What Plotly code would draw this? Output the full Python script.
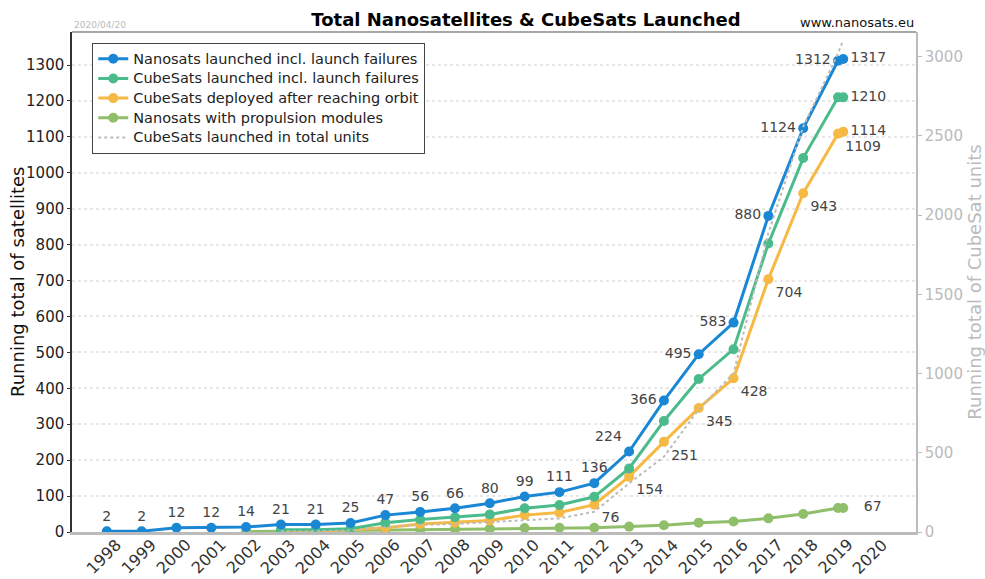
import plotly.graph_objects as go

years = [1998, 1999, 2000, 2001, 2002, 2003, 2004, 2005, 2006, 2007, 2008, 2009,
         2010, 2011, 2012, 2013, 2014, 2015, 2016, 2017, 2018, 2019, 2019.15]
nanosats = [2, 2, 12, 12, 14, 21, 21, 25, 47, 56, 66, 80, 99, 111, 136, 224, 366,
            495, 583, 880, 1124, 1312, 1317]

years_cs = [2003, 2004, 2005, 2006, 2007, 2008, 2009, 2010, 2011, 2012, 2013, 2014,
            2015, 2016, 2017, 2018, 2019, 2019.15]
cubesats = [6, 6, 9, 26, 35, 41, 49, 66, 75, 98, 177, 309, 426, 509, 803, 1041, 1210, 1210]
deployed = [3, 3, 6, 12, 22, 26, 32, 47, 54, 76, 154, 251, 345, 428, 704, 943, 1109, 1114]
cs_units = [5, 5, 10, 30, 45, 50, 63, 76, 86, 128, 307, 475, 774, 1001, 1887, 2558, 3020, 3105]

years_prop = [2002, 2003, 2004, 2005, 2006, 2007, 2008, 2009, 2010, 2011, 2012, 2013,
              2014, 2015, 2016, 2017, 2018, 2019, 2019.15]
propulsion = [1, 2, 3, 4, 6, 7, 8, 9, 11, 12, 12, 15, 19, 26, 29, 38, 50, 67, 67]

x_ticks = list(range(1998, 2021))
x_tick_labels = [str(t) for t in x_ticks]

BLUE = "#1a87d4"
GREEN = "#4cbb8b"
YELLOW = "#f6b943"
LGREEN = "#8fbf6a"
LABEL = "#444444"
FONT = "DejaVu Sans"


def leg(name):
    return '<span style="font-size:14.5px">' + name + '</span>'


fig = go.Figure()

blue_pos = []
for y in years:
    if y <= 2012:
        blue_pos.append("top center")
    elif y == 2013:
        blue_pos.append("top left")
    elif y <= 2019:
        blue_pos.append("middle left")
    else:
        blue_pos.append("middle right")
blue_text = [str(v) for v in nanosats]

yel_text = [str(v) if y >= 2012 else "" for y, v in zip(years_cs, deployed)]
yel_pos = ["bottom right" if y <= 2019 else "middle right" for y in years_cs]

green_text = ["" for _ in cubesats]
green_text[-1] = str(cubesats[-1])
prop_text = ["" for _ in propulsion]
prop_text[-1] = "   " + str(propulsion[-1])

fig.add_trace(go.Scatter(
    x=years_cs, y=cs_units, yaxis="y2", mode="lines",
    line=dict(color="#bbbbbb", width=2, dash="dot"),
    name=leg("CubeSats launched in total units"), legendrank=5))

fig.add_trace(go.Scatter(
    x=years_prop, y=propulsion, mode="lines+markers+text",
    line=dict(color=LGREEN, width=3), marker=dict(size=10, color=LGREEN),
    text=prop_text, textposition="middle right",
    textfont=dict(size=14, color=LABEL, family=FONT),
    name=leg("Nanosats with propulsion modules"), legendrank=4))

fig.add_trace(go.Scatter(
    x=years_cs, y=deployed, mode="lines+markers+text",
    line=dict(color=YELLOW, width=3), marker=dict(size=10, color=YELLOW),
    text=yel_text, textposition=yel_pos,
    textfont=dict(size=14, color=LABEL, family=FONT),
    name=leg("CubeSats deployed after reaching orbit"), legendrank=3))

fig.add_trace(go.Scatter(
    x=years_cs, y=cubesats, mode="lines+markers+text",
    line=dict(color=GREEN, width=3), marker=dict(size=10, color=GREEN),
    text=green_text, textposition="middle right",
    textfont=dict(size=14, color=LABEL, family=FONT),
    name=leg("CubeSats launched incl. launch failures"), legendrank=2))

fig.add_trace(go.Scatter(
    x=years, y=nanosats, mode="lines+markers+text",
    line=dict(color=BLUE, width=3), marker=dict(size=10, color=BLUE),
    text=blue_text, textposition=blue_pos,
    textfont=dict(size=14, color=LABEL, family=FONT),
    name=leg("Nanosats launched incl. launch failures"), legendrank=1))

annotations = [
    dict(text="2020/04/20", xref="paper", yref="paper", x=0.0, y=1.0,
         xanchor="left", yanchor="bottom", showarrow=False,
         font=dict(size=9, color="#bbbbbb", family=FONT)),
    dict(text="www.nanosats.eu", xref="paper", yref="paper", x=1.0, y=1.0,
         xanchor="right", yanchor="bottom", showarrow=False,
         font=dict(size=13, color="#111111", family=FONT)),
    dict(text="Running total of satellites", xref="paper", yref="paper",
         x=0, xshift=-55, y=0.5, xanchor="center", yanchor="middle",
         textangle=-90, showarrow=False,
         font=dict(size=18, color="#111111", family=FONT)),
]
# centred, rotated x tick labels (matplotlib style)
for t, lab in zip(x_ticks, x_tick_labels):
    annotations.append(dict(text=lab, x=t, xref="x", y=0, yref="paper",
                            xanchor="center", yanchor="middle", showarrow=False,
                            textangle=-45, xshift=-3, yshift=-24,
                            font=dict(size=16, color="#333333", family=FONT)))

fig.update_layout(
    width=985, height=579,
    margin=dict(l=72, r=69, t=32, b=47, autoexpand=False),
    paper_bgcolor="white", plot_bgcolor="white",
    font=dict(family=FONT, color="#222222"),
    showlegend=True,
    title=dict(text="<b>Total Nanosatellites & CubeSats Launched</b>",
               x=526 / 985, xanchor="center", xref="container",
               y=1 - 20 / 579, yanchor="middle", yref="container",
               font=dict(size=18, color="black", family=FONT)),
    legend=dict(x=0.024, y=0.978, xanchor="left", yanchor="top",
                bgcolor="white", bordercolor="#444444", borderwidth=1,
                font=dict(size=12.8, color="#222222", family=FONT),
                tracegroupgap=0, itemwidth=30),
    xaxis=dict(range=[1997, 2021.24], tickmode="array", tickvals=x_ticks,
               showticklabels=False,
               showgrid=False, zeroline=False, automargin=False,
               showline=True, linecolor="#bbbbbb", linewidth=3,
               ticks="", mirror=False),
    yaxis=dict(range=[0, 1392], tickmode="array", tickvals=list(range(0, 1400, 100)),
               tickfont=dict(size=15, color="#222222"), automargin=False,
               showgrid=True, gridcolor="#e8e8e8", griddash="dot", gridwidth=2,
               zeroline=False, showline=True, linecolor="#333333", linewidth=1.5,
               ticks="outside", ticklen=3, tickcolor="#333333"),
    yaxis2=dict(range=[0, 3156], overlaying="y", side="right", automargin=False,
                tickmode="array", tickvals=list(range(0, 3001, 500)),
                tickfont=dict(size=15, color="#bbbbbb"),
                title=dict(text="Running total of CubeSat units",
                           font=dict(size=18, color="#bbbbbb"), standoff=8),
                showgrid=False, zeroline=False, showline=True,
                linecolor="#bbbbbb", linewidth=1.5,
                ticks="outside", ticklen=4, tickcolor="#bbbbbb"),
    shapes=[dict(type="line", xref="paper", yref="paper", x0=0, x1=1, y0=1, y1=1,
                 line=dict(color="#888888", width=1.5))],
    annotations=annotations,
)

fig.write_html("out.html", config={"displayModeBar": False},
               post_script="document.body.style.margin='0px';document.body.style.overflow='hidden';")
